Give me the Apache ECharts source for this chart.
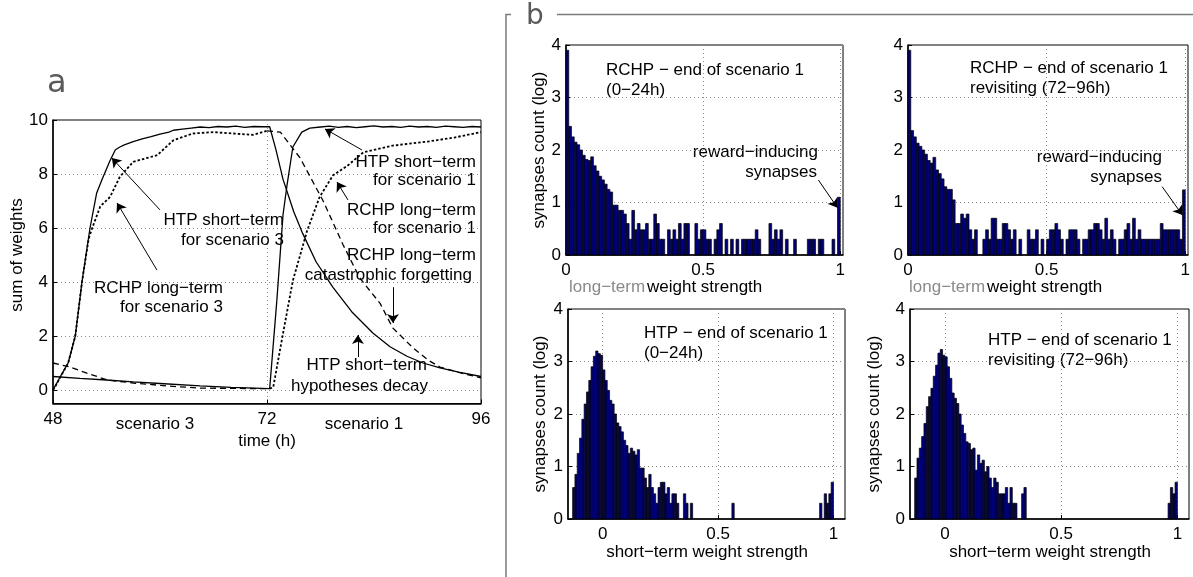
<!DOCTYPE html>
<html>
<head>
<meta charset="utf-8">
<script src="https://cdn.jsdelivr.net/npm/echarts@6/dist/echarts.min.js"></script>
<style>html,body{margin:0;padding:0;background:#fff;}#c{width:1193px;height:577px;}</style>
</head>
<body>
<div id="c"></div>
<script>
// ---------- Panel a data: [time (h), sum of weights] ----------
const htpScen3 = [[48,0],[48.5,0.3],[49,0.6],[49.7,1.0],[50.5,2.0],[51.25,4.0],[52.15,6.0],[52.9,7.3],[53.5,7.8],[54.4,8.5],[55,8.9],[55.5,9.0],[56,9.08],[57,9.2],[58,9.3],[59,9.38],[60,9.48],[61,9.55],[61.5,9.62],[62.5,9.66],[63.5,9.7],[64.5,9.74],[65.5,9.72],[66.5,9.76],[67.5,9.74],[68.5,9.77],[69.5,9.73],[70.5,9.76],[71.5,9.75],[72.3,9.75],
  [73.0,8.9],[73.8,7.8],[75,6.6],[76,5.8],[77.5,4.75],[79.4,3.8],[81.5,2.9],[83.9,2.1],[85.8,1.6],[87.7,1.25],[89.5,1.0],[91.4,0.82],[93.5,0.66],[96,0.5]];
const htpScen1 = [[48,0.5],[51,0.43],[54,0.37],[57,0.3],[60,0.24],[64.5,0.15],[68,0.1],[72.3,0.05],
  [73.1,3.3],[73.8,6.5],[74.25,7.6],[74.9,9.0],[75.9,9.55],[76.8,9.7],[78,9.74],[79,9.77],[80,9.73],[81,9.76],[82,9.72],[83,9.75],[84,9.78],[85,9.74],[86,9.76],[87,9.73],[88,9.77],[89,9.74],[90,9.76],[91,9.73],[92,9.77],[93,9.75],[94,9.73],[95,9.76],[96,9.74]];
const rchpScen3Learn = [[48,0],[48.2,0.1],[49.7,1.0],[50.5,2.0],[51.25,4.0],[52.0,5.6],[52.4,6.0],[53.3,6.8],[54.4,7.15],[55.5,7.9],[57.0,8.45],[59.7,8.7],[61.5,9.25],[63.7,9.5],[66,9.55],[68.2,9.5],[70.4,9.45],[72,9.6]];
const rchpScen3Forget = [[72,9.6],[73.5,9.55],[75.7,8.6],[78.3,7.0],[80.5,5.4],[82.4,4.15],[84.7,3.2],[86.1,2.3],[88.4,1.55],[90.1,1.1],[91.4,0.85],[93.5,0.65],[96,0.45]];
const rchpScen1Forget = [[48,1.0],[49.9,0.85],[51.4,0.67],[54.1,0.37],[57.0,0.26],[60.8,0.15],[64.5,0.07],[72,0.05]];
const rchpScen1Learn = [[72.3,0.05],[72.7,0.1],[73.8,2.1],[74.9,4.05],[76.5,5.9],[77.9,7.15],[79.4,7.95],[81.0,8.3],[82.8,8.8],[86.1,9.05],[90.0,9.2],[93,9.35],[96,9.55]];
const timeTicks = [48, 72, 96];
const weightTicks = [0, 2, 4, 6, 8, 10];

// ---------- Panel b data: log10 synapse count per bin (bin width 0.01) ----------
const binWidth = 0.01;
const longTermBinStart = 0;      // first bin of the long-term histograms
const shortTermBinStart = -0.13; // first bin of the short-term histograms
const rchpEnd1 = [3.9,2.45,2.25,2.15,2.1,2.0,1.9,1.82,1.8,1.87,1.7,1.6,1.5,1.43,1.35,1.25,1.2,0.95,0.95,0.85,
  0.85,0.78,0.6,0.3,0.85,0.48,0.6,0.48,0.48,0.6,0.3,0.3,0.78,0.6,0.3,0.3,0,0.48,0.3,0.48,
  0.3,0.6,0.3,0.6,0.6,0,0,0.6,0.3,0.48,0.48,0.3,0.3,0,0.3,0.48,0.6,0,0.3,0,
  0.3,0,0.3,0,0.3,0.3,0.3,0.3,0.3,0.48,0.3,0,0,0,0.6,0.3,0.48,0.3,0.48,0,
  0.3,0,0,0.3,0,0,0,0,0.3,0.3,0.3,0,0.3,0.3,0,0,0,0.3,0,1.1];
const rchpRevisit = [3.9,2.37,2.25,2.13,2.07,2.0,1.92,1.8,1.75,1.86,1.62,1.55,1.45,1.3,1.25,1.25,1.05,0.6,0.6,0.78,
  0.7,0.78,0.48,0.3,0.48,0,0,0.3,0.48,0.3,0.7,0.7,0.3,0.3,0.6,0.6,0.48,0.3,0.48,0,
  0.3,0,0,0.48,0.3,0.3,0.48,0,0.3,0,0.3,0.48,0.48,0.6,0.48,0.3,0,0.3,0.48,0.48,
  0.48,0.3,0,0.3,0.3,0.48,0.48,0.6,0.6,0.48,0.3,0.7,0.3,0.48,0.3,0,0.3,0.3,0.48,0.6,
  0.3,0.7,0.3,0.48,0.3,0.3,0.3,0.3,0.3,0.3,0.3,0.6,0.48,0.48,0.48,0.48,0.48,0.48,0.3,1.24];
// short-term histograms: contiguous bins from -0.13 to 0.40, plus isolated bins [bin start, height]
const htpEnd1 = [0.6,0.85,1.25,1.54,1.9,2.19,2.42,2.64,2.9,3.1,3.2,3.15,3.12,
  2.84,2.64,2.45,2.26,2.19,2.0,1.83,1.76,1.66,1.5,
  1.4,1.25,1.35,1.29,1.22,1.32,0.97,0.97,0.78,0.6,
  0.85,0.6,0.48,0.3,0.6,0.7,0.7,0.48,0.6,0.3,
  0.48,0.48,0.3,0,0,0.48,0.3,0,0.3,0,0];
const htpEnd1Isolated = [[0.56,0.3],[0.94,0.3],[0.96,0.48],[0.97,0.3],[0.98,0.48],[0.99,0.7]];
const htpRevisit = [0.78,1.16,1.35,1.57,1.82,2.14,2.33,2.49,2.72,2.93,3.16,3.23,3.12,
  3.09,2.9,2.68,2.4,2.3,2.2,2.0,1.79,1.63,1.47,
  1.44,1.32,1.35,0.93,1.22,1.06,1.12,0.9,1.0,0.78,
  0.6,0.78,0.7,0.48,0.48,0.48,0.6,0.3,0.6,0.3,
  0.3,0,0,0.48,0.6,0,0,0,0,0,0];
const htpRevisitIsolated = [[0.96,0.3],[0.97,0.6],[0.98,0.48],[0.99,0.7]];
const strengthTicks = [0, 0.5, 1];
const countTicks = [0, 1, 2, 3, 4];

// ---------- styling ----------
const FONT = 'Liberation Sans, Arial, Helvetica, sans-serif';
const gridLine = { show: true, lineStyle: { color: '#8a8a8a', type: [1, 3], width: 1 } };
const labelStyle = { fontFamily: FONT, fontSize: 17, color: '#000' };

function xAxisDef(gi, min, max, ticks) {
  return {
    type: 'value', gridIndex: gi, min: min, max: max,
    axisLine: { show: true, onZero: false, lineStyle: { color: '#000', width: 1.5 } },
    axisTick: { show: true, inside: true, length: 4, customValues: ticks, lineStyle: { color: '#000' } },
    axisLabel: Object.assign({ customValues: ticks, margin: 7 }, labelStyle),
    splitLine: gridLine
  };
}
function yAxisDef(gi, min, max, ticks) {
  return {
    type: 'value', gridIndex: gi, min: min, max: max,
    axisLine: { show: true, onZero: false, lineStyle: { color: '#000', width: 1.5 } },
    axisTick: { show: true, inside: true, length: 4, customValues: ticks, lineStyle: { color: '#000' } },
    axisLabel: Object.assign({ customValues: ticks, margin: 5 }, labelStyle),
    splitLine: gridLine
  };
}
function histSeries(gi, start, heights, isolated) {
  const data = [];
  heights.forEach((h, i) => { if (h > 0) data.push([start + i * binWidth, h]); });
  (isolated || []).forEach(d => data.push([d[0], d[1]]));
  return {
    type: 'custom', xAxisIndex: gi, yAxisIndex: gi, data: data, silent: true,
    renderItem: function (params, api) {
      const x0 = api.value(0), h = api.value(1);
      const p0 = api.coord([x0, 0]);
      const p1 = api.coord([x0 + binWidth, h]);
      return { type: 'rect', shape: { x: p0[0], y: p1[1], width: p1[0] - p0[0], height: p0[1] - p1[1] },
        style: { fill: '#00007a', stroke: '#000', lineWidth: 0.7 } };
    }
  };
}
function lineSeries(data, type, width) {
  return { type: 'line', xAxisIndex: 0, yAxisIndex: 0, data: data, showSymbol: false, symbol: 'none', silent: true,
    lineStyle: { color: '#000', width: width, type: type } };
}
function arrows(gi, pairs) {
  return { type: 'line', xAxisIndex: gi, yAxisIndex: gi, data: [], silent: true, symbol: 'none',
    markLine: { silent: true, symbol: ['none', 'arrow'], symbolSize: 9, animation: false,
      lineStyle: { color: '#000', width: 1, type: 'solid' }, label: { show: false },
      data: pairs.map(p => [{ coord: p[0] }, { coord: p[1] }]) } };
}
function T(text, x, y, align, extra) {
  return { type: 'text', silent: true, style: Object.assign({ text: text, x: x, y: y, font: '17px ' + FONT, fill: '#000',
    textAlign: align || 'left', align: align || 'left', textVerticalAlign: 'middle', verticalAlign: 'middle' }, extra || {}) };
}
function TR(text, x, y) {
  return { type: 'text', silent: true, x: x, y: y, rotation: Math.PI / 2,
    style: { text: text, x: 0, y: 0, font: '17px ' + FONT, fill: '#000', textAlign: 'center', align: 'center', textVerticalAlign: 'middle', verticalAlign: 'middle' } };
}

const chart = echarts.init(document.getElementById('c'), null, { renderer: 'canvas' });
const gridBase = { show: true, borderColor: '#000', borderWidth: 1, backgroundColor: 'transparent', containLabel: false };
const option = {
  animation: false,
  backgroundColor: '#fff',
  grid: [
    Object.assign({ left: 53, top: 120, width: 428, height: 283.5 }, gridBase),
    Object.assign({ left: 566, top: 45, width: 277, height: 210 }, gridBase),
    Object.assign({ left: 908, top: 45, width: 280, height: 210 }, gridBase),
    Object.assign({ left: 568, top: 309, width: 277, height: 210 }, gridBase),
    Object.assign({ left: 910, top: 309, width: 279, height: 210 }, gridBase)
  ],
  xAxis: [
    xAxisDef(0, 48, 96, timeTicks),
    xAxisDef(1, 0, 1.01, strengthTicks),
    xAxisDef(2, 0, 1.01, strengthTicks),
    xAxisDef(3, -0.15, 1.05, strengthTicks),
    xAxisDef(4, -0.15, 1.05, strengthTicks)
  ],
  yAxis: [
    yAxisDef(0, -0.5, 10, weightTicks),
    yAxisDef(1, 0, 4, countTicks),
    yAxisDef(2, 0, 4, countTicks),
    yAxisDef(3, 0, 4, countTicks),
    yAxisDef(4, 0, 4, countTicks)
  ],
  series: [
    lineSeries(htpScen3, 'solid', 1.3),
    lineSeries(htpScen1, 'solid', 1.3),
    lineSeries(rchpScen3Learn, [2.5, 2], 1.8),
    lineSeries(rchpScen1Learn, [2.5, 2], 1.8),
    lineSeries(rchpScen3Forget, [6, 4], 1.3),
    lineSeries(rchpScen1Forget, [6, 4], 1.3),
    arrows(0, [
      [[60.0, 6.67], [54.6, 8.59]],
      [[59.66, 4.44], [55.18, 6.93]],
      [[82.65, 8.89], [78.5, 9.67]],
      [[81.08, 7.04], [79.85, 7.7]],
      [[86.13, 3.81], [86.13, 2.48]],
      [[82.2, 1.22], [82.2, 2.04]]
    ]),
    histSeries(1, longTermBinStart, rchpEnd1),
    histSeries(2, longTermBinStart, rchpRevisit),
    histSeries(3, shortTermBinStart, htpEnd1, htpEnd1Isolated),
    histSeries(4, shortTermBinStart, htpRevisit, htpRevisitIsolated),
    arrows(1, [[[0.92, 1.43], [0.99, 0.9]]]),
    arrows(2, [[[0.917, 1.3], [0.99, 0.76]]])
  ],
  graphic: [
    // panel labels
    T('a', 47, 84, 'left', { font: '32px DejaVu Sans, sans-serif', fill: '#5a5a5a' }),
    T('b', 526, 17, 'left', { font: '28px DejaVu Sans, sans-serif', fill: '#5a5a5a' }),
    // panel b frame
    { type: 'polyline', silent: true, shape: { points: [[511, 14.5], [506, 14.5], [506, 577]] }, style: { stroke: '#7a7a7a', lineWidth: 1.5, fill: null } },
    { type: 'line', silent: true, shape: { x1: 557, y1: 14.5, x2: 1193, y2: 14.5 }, style: { stroke: '#7a7a7a', lineWidth: 1.5 } },
    // panel a text
    TR('sum of weights', 17, 255),
    T('scenario 3', 155, 424, 'center'),
    T('scenario 1', 364, 424, 'center'),
    T('time (h)', 267, 441, 'center'),
    T('HTP short−term', 284, 220, 'right'),
    T('for scenario 3', 284, 240, 'right'),
    T('RCHP long−term', 223, 288, 'right'),
    T('for scenario 3', 223, 307, 'right'),
    T('HTP short−term', 476, 162, 'right'),
    T('for scenario 1', 476, 180, 'right'),
    T('RCHP long−term', 476, 210, 'right'),
    T('for scenario 1', 476, 228, 'right'),
    T('RCHP long−term', 476, 255, 'right'),
    T('catastrophic forgetting', 472, 275, 'right'),
    T('HTP short−term', 427, 365, 'right'),
    T('hypotheses decay', 428, 386, 'right'),
    // panel b texts
    TR('synapses count (log)', 539, 150),
    TR('synapses count (log)', 540, 414),
    TR('synapses count (log)', 874, 414),
    T('RCHP − end of scenario 1', 606, 70),
    T('(0−24h)', 606, 90),
    T('reward−inducing', 818, 152, 'right'),
    T('synapses', 817, 172, 'right'),
    T('RCHP − end of scenario 1', 970, 68),
    T('revisiting (72−96h)', 970, 88),
    T('reward−inducing', 1162, 157, 'right'),
    T('synapses', 1162, 177, 'right'),
    T('HTP − end of scenario 1', 644, 333),
    T('(0−24h)', 644, 353),
    T('HTP − end of scenario 1', 988, 340),
    T('revisiting (72−96h)', 988, 360),
    T('long−term', 569, 287, 'left', { fill: '#8a8a8a' }),
    T('weight strength', 647, 287),
    T('long−term', 909, 287, 'left', { fill: '#8a8a8a' }),
    T('weight strength', 987, 287),
    T('short−term weight strength', 707, 552, 'center'),
    T('short−term weight strength', 1050, 552, 'center')
  ]
};
chart.setOption(option);
</script>
</body>
</html>
